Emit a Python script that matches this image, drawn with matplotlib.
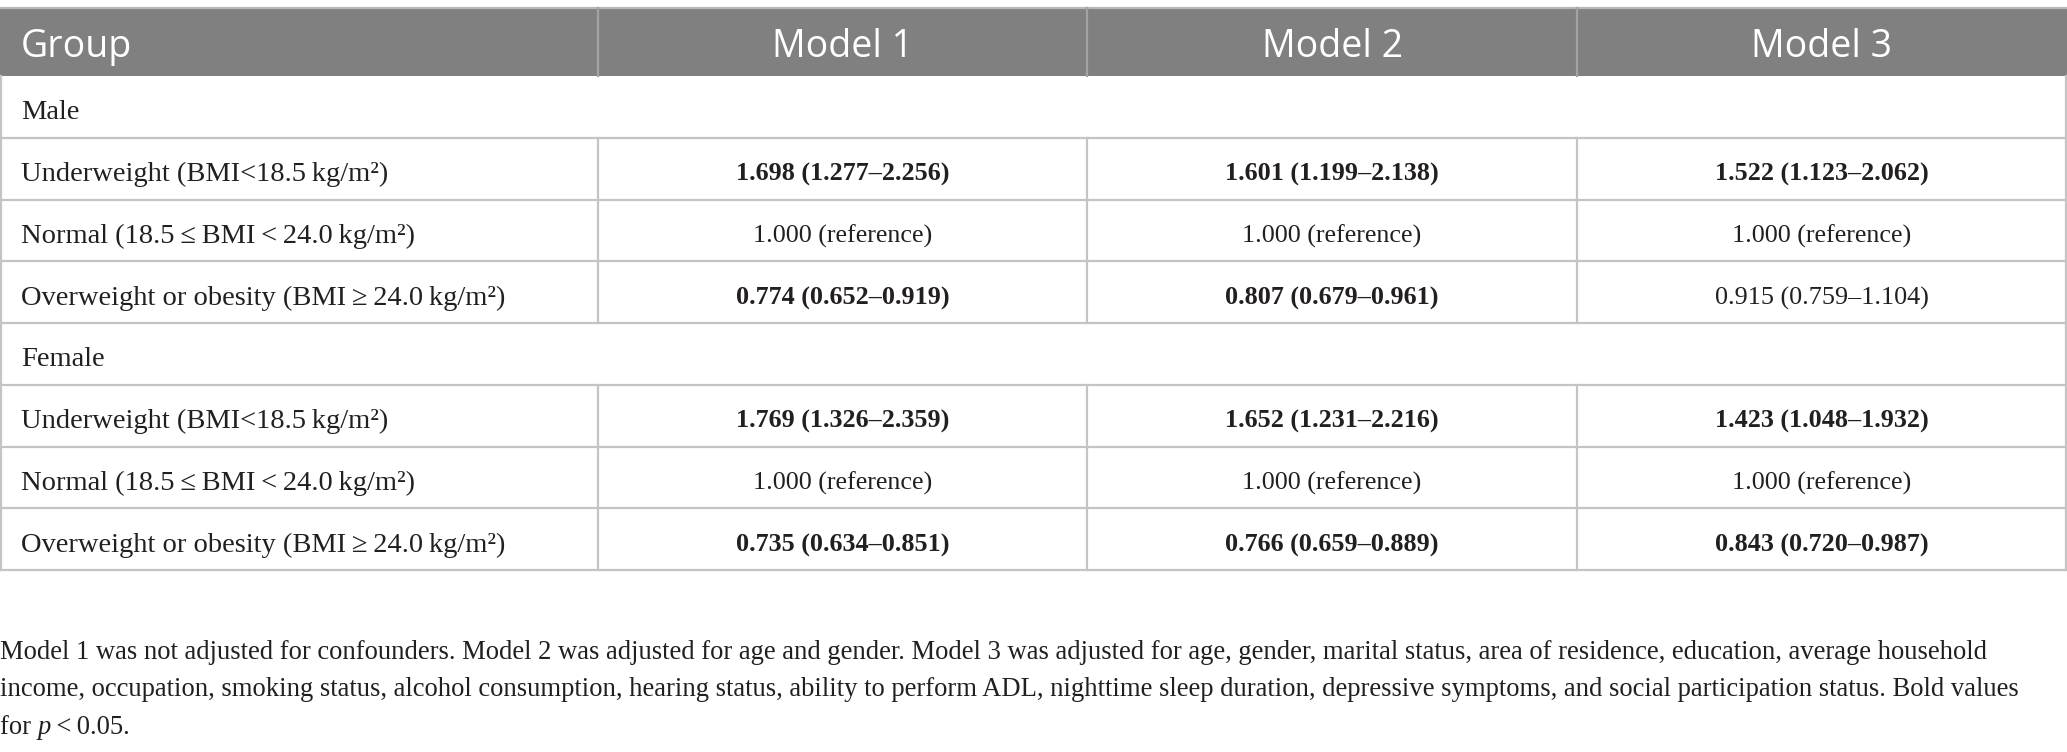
import matplotlib
matplotlib.use("Agg")
import matplotlib.pyplot as plt

# ---------------- data ----------------
header = ["Group", "Model 1", "Model 2", "Model 3"]
sections = ["Male", "Female"]
row_labels = [
    "Underweight (BMI<18.5\u2009kg/m\u00b2)",
    "Normal (18.5\u2009\u2264\u2009BMI\u2009<\u200924.0\u2009kg/m\u00b2)",
    "Overweight or obesity (BMI\u2009\u2265\u200924.0\u2009kg/m\u00b2)",
]
male_values = [
    ["1.698 (1.277\u20132.256)", "1.601 (1.199\u20132.138)", "1.522 (1.123\u20132.062)"],
    ["1.000 (reference)", "1.000 (reference)", "1.000 (reference)"],
    ["0.774 (0.652\u20130.919)", "0.807 (0.679\u20130.961)", "0.915 (0.759\u20131.104)"],
]
male_bold = [
    [True, True, True],
    [False, False, False],
    [True, True, False],
]
female_values = [
    ["1.769 (1.326\u20132.359)", "1.652 (1.231\u20132.216)", "1.423 (1.048\u20131.932)"],
    ["1.000 (reference)", "1.000 (reference)", "1.000 (reference)"],
    ["0.735 (0.634\u20130.851)", "0.766 (0.659\u20130.889)", "0.843 (0.720\u20130.987)"],
]
female_bold = [
    [True, True, True],
    [False, False, False],
    [True, True, True],
]
footnote_lines = [
    "Model 1 was not adjusted for confounders. Model 2 was adjusted for age and gender. Model 3 was adjusted for age, gender, marital status, area of residence, education, average household",
    "income, occupation, smoking status, alcohol consumption, hearing status, ability to perform ADL, nighttime sleep duration, depressive symptoms, and social participation status. Bold values",
]
footnote_last = ("for ", "p", "\u2009<\u20090.05.")

# ---------------- layout ----------------
W, H = 2067, 752
fig = plt.figure(figsize=(W / 100, H / 100), dpi=100)
ax = fig.add_axes([0, 0, 1, 1])
ax.set_xlim(0, W)
ax.set_ylim(H, 0)
ax.axis("off")

col_x = [0, 598, 1087, 1577, 2066]
head_top, head_bot = 8, 76
row_h = (570 - head_bot) / 8
serif = ["Liberation Serif", "DejaVu Serif"]
sans = ["Open Sans", "DejaVu Sans"]
label_fs = 20.5
value_fs = 18.8
foot_fs = 19.2
head_fs = 27
txt_c = "#231f20"
line_c = "#c4c4c4"
lw = 1.6

# header
ax.add_patch(plt.Rectangle((0, head_top), W, head_bot - head_top, color="#7f807f", lw=0))
ax.plot([0, W], [head_top, head_top], color="#b8b8b8", lw=lw)
for x in col_x[1:-1]:
    ax.plot([x, x], [head_top, head_bot], color="#a3a3a3", lw=lw)
hy = (head_top + head_bot) / 2 + 5
ax.text(21, hy, header[0], color="white", fontsize=head_fs, family=sans, va="center", ha="left")
for i in range(1, 4):
    ax.text((col_x[i] + col_x[i + 1]) / 2, hy, header[i], color="white", fontsize=head_fs,
            family=sans, va="center", ha="center")

# body rows
rows = []
for sec, vals, bolds in [(sections[0], male_values, male_bold), (sections[1], female_values, female_bold)]:
    rows.append((sec, None, None))
    for lab, v, b in zip(row_labels, vals, bolds):
        rows.append((lab, v, b))

for k, (lab, vals, bolds) in enumerate(rows):
    y0 = head_bot + k * row_h
    y1 = y0 + row_h
    yc = (y0 + y1) / 2 + 6
    ax.plot([0, W], [y1, y1], color=line_c, lw=lw)
    ax.plot([0.8, 0.8], [y0, y1], color=line_c, lw=lw)
    ax.plot([W - 1, W - 1], [y0, y1], color=line_c, lw=lw)
    ax.text(21, yc, lab, fontsize=label_fs, family=serif, va="center", ha="left", color=txt_c)
    if vals is not None:
        for j in range(3):
            ax.plot([col_x[j + 1], col_x[j + 1]], [y0, y1], color=line_c, lw=lw)
            ax.text((col_x[j + 1] + col_x[j + 2]) / 2, yc, vals[j], fontsize=value_fs,
                    family=serif, va="center", ha="center", color=txt_c,
                    weight="bold" if bolds[j] else "normal")

# footnote
fy = [652.5, 690, 727.5]
for i, t in enumerate(footnote_lines):
    ax.text(0, fy[i], t, fontsize=foot_fs, family=serif, va="center", ha="left", color=txt_c)
t1 = ax.text(0, fy[2], footnote_last[0], fontsize=foot_fs, family=serif, va="center", ha="left", color=txt_c)
fig.canvas.draw()
r = fig.canvas.get_renderer()
inv = ax.transData.inverted()
x1 = inv.transform((t1.get_window_extent(r).x1, 0))[0]
t2 = ax.text(x1, fy[2], footnote_last[1], fontsize=foot_fs, family=serif, style="italic",
             va="center", ha="left", color=txt_c)
x2 = inv.transform((t2.get_window_extent(r).x1, 0))[0]
ax.text(x2, fy[2], footnote_last[2], fontsize=foot_fs, family=serif, va="center", ha="left", color=txt_c)

fig.savefig("out.png", dpi=100)
